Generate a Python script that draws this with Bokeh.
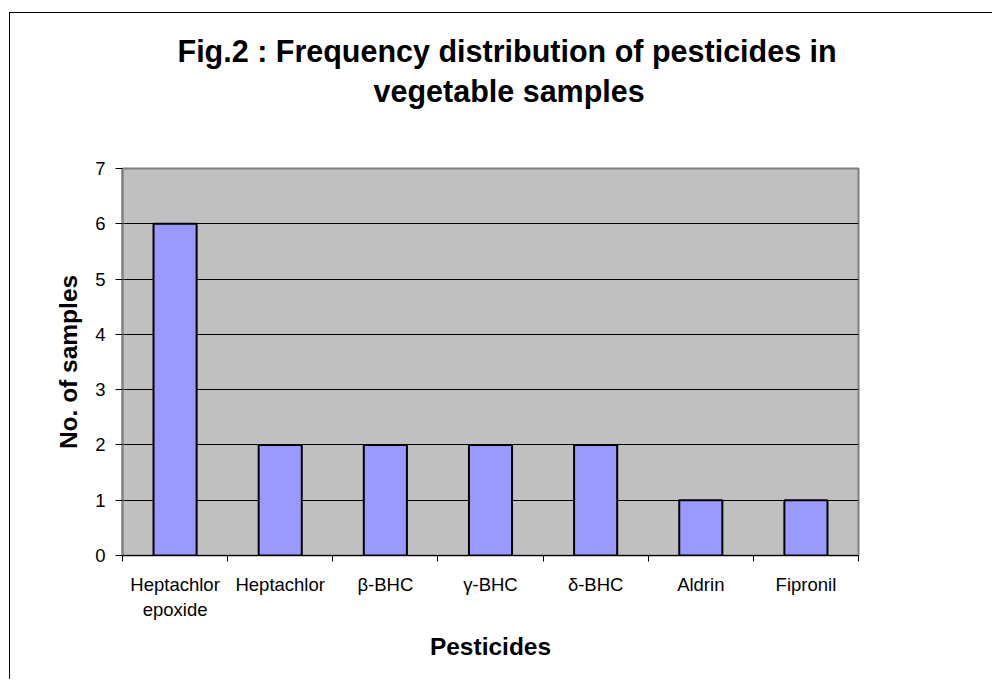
from bokeh.plotting import figure
from bokeh.models import ColumnDataSource, Range1d, FixedTicker, CustomJSTickFormatter, Title
from bokeh.layouts import column
from bokeh.embed import file_html
from bokeh.resources import INLINE

pesticides = ["Heptachlor epoxide", "Heptachlor", "β-BHC", "γ-BHC", "δ-BHC", "Aldrin", "Fipronil"]
tick_labels = ["Heptachlor\nepoxide", "Heptachlor", "β-BHC", "γ-BHC", "δ-BHC", "Aldrin", "Fipronil"]
samples = [6, 2, 2, 2, 2, 1, 1]
y_ticks = [0, 1, 2, 3, 4, 5, 6, 7]
title_lines = ["Fig.2 : Frequency distribution of pesticides in", "vegetable samples"]

n = len(pesticides)
centers = [i + 0.5 for i in range(n)]
bounds = list(range(n + 1))

FONT = "Liberation Sans"

src = ColumnDataSource(dict(x=centers, samples=samples, name=pesticides))

p = figure(width=982, height=666, x_range=Range1d(0, n), y_range=Range1d(y_ticks[0], y_ticks[-1]),
           output_backend="svg", toolbar_location=None,
           min_border_left=112, min_border_right=134, min_border_bottom=124, min_border_top=155)

p.background_fill_color = "#C0C0C0"
p.border_fill_color = "white"
p.outline_line_color = "#808080"
p.outline_line_width = 2

p.vbar(x="x", top="samples", width=0.41, bottom=0, source=src,
       fill_color="#9999FF", line_color="black", line_width=2)

# titles
t2 = Title(text=title_lines[1], align="left", offset=251, text_font=FONT,
           text_font_size="30.5px", text_font_style="bold", text_color="black", standoff=4,
           padding=dict(left=0, right=0, top=0, bottom=59))
t1 = Title(text=title_lines[0], align="left", offset=55, text_font=FONT,
           text_font_size="30.5px", text_font_style="bold", text_color="black", standoff=3)
p.add_layout(t2, "above")
p.add_layout(t1, "above")

# grid
p.xgrid.visible = False
p.ygrid.ticker = FixedTicker(ticks=y_ticks[1:-1])
p.ygrid.grid_line_color = "black"
p.ygrid.grid_line_width = 1

# x axis
xa = p.xaxis[0]
xa.ticker = FixedTicker(ticks=centers, minor_ticks=bounds)
xa.formatter = CustomJSTickFormatter(args=dict(labels=tick_labels), code="return labels[Math.floor(tick)];")
xa.major_tick_line_color = None
xa.major_tick_out = 6
xa.major_tick_in = 0
xa.minor_tick_out = 6
xa.minor_tick_in = 0
xa.minor_tick_line_color = "black"
xa.axis_line_color = "black"
xa.axis_line_width = 1
xa.major_label_standoff = 12
xa.major_label_text_font = FONT
xa.major_label_text_font_size = "18.5px"
xa.major_label_text_color = "black"
xa.axis_label = "Pesticides"
xa.axis_label_text_font = FONT
xa.axis_label_text_font_size = "24.5px"
xa.axis_label_text_font_style = "bold"
xa.axis_label_text_color = "black"
xa.axis_label_standoff = 10

# y axis
ya = p.yaxis[0]
ya.ticker = FixedTicker(ticks=y_ticks)
ya.axis_line_color = "#808080"
ya.axis_line_width = 2
ya.major_tick_out = 7
ya.major_tick_in = 0
ya.major_tick_line_color = "black"
ya.minor_tick_line_color = None
ya.major_label_standoff = 10
ya.major_label_text_font = FONT
ya.major_label_text_font_size = "18.5px"
ya.major_label_text_color = "black"
ya.axis_label = "No. of samples"
ya.axis_label_text_font = FONT
ya.axis_label_text_font_size = "24.5px"
ya.axis_label_text_font_style = "bold"
ya.axis_label_text_color = "black"
ya.axis_label_standoff = 10

layout = column(p, styles={"border-top": "1px solid black", "border-left": "1px solid black",
                           "margin-left": "9px", "margin-top": "12px"})

open("out.html", "w").write(file_html(layout, INLINE))
